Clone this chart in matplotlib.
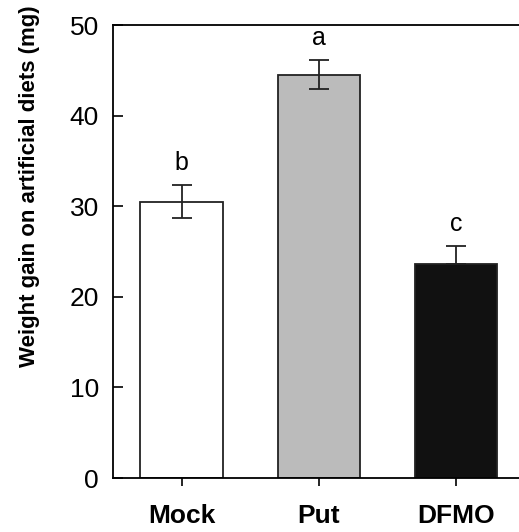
import matplotlib.pyplot as plt
import numpy as np

plt.rcParams['font.family'] = ['Liberation Sans', 'DejaVu Sans']

# Data
treatments = ['Mock', 'Put', 'DFMO']
weight_gain = [30.5, 44.5, 23.6]
sem = [1.85, 1.6, 2.0]
letters = ['b', 'a', 'c']
bar_colors = ['white', '#bbbbbb', '#111111']

fig = plt.figure(figsize=(5.19, 5.32), dpi=100)
ax = fig.add_axes([113 / 519, 54 / 532, 406 / 519, 453 / 532])

x = np.arange(len(treatments))
ax.bar(x, weight_gain, width=0.6, color=bar_colors, edgecolor='#222222', linewidth=1.3, zorder=2)

# error bars: two-sided for light bars, upper only for the dark one
for xi, val, err, col in zip(x, weight_gain, sem, bar_colors):
    lower = 0 if col == '#111111' else err
    ax.errorbar(xi, val, yerr=[[lower], [err]], fmt='none', ecolor='#222222',
                elinewidth=1.3, capsize=7, capthick=1.3, zorder=3)

for xi, val, err, lab in zip(x, weight_gain, sem, letters):
    ax.text(xi, val + err + 1.1, lab, ha='center', va='bottom', fontsize=18)

ax.set_xlim(-0.5, 2.46)
ax.set_ylim(0, 50)
ax.set_yticks([0, 10, 20, 30, 40, 50])
ax.set_xticks(x)
ax.set_xticklabels(treatments, fontsize=19, fontweight='bold')
ax.tick_params(axis='y', direction='in', labelsize=19, length=7, width=1.2, pad=10)
ax.tick_params(axis='x', direction='out', length=6, width=1.2, pad=13)
ax.set_ylabel('Weight gain on artificial diets (mg)', fontsize=16, fontweight='bold',
              va='center')
ax.yaxis.set_label_coords(-0.205, 0.645)

ax.spines['right'].set_visible(False)
for s in ['left', 'top', 'bottom']:
    ax.spines[s].set_linewidth(1.3)

fig.savefig('out.png', dpi=100)
